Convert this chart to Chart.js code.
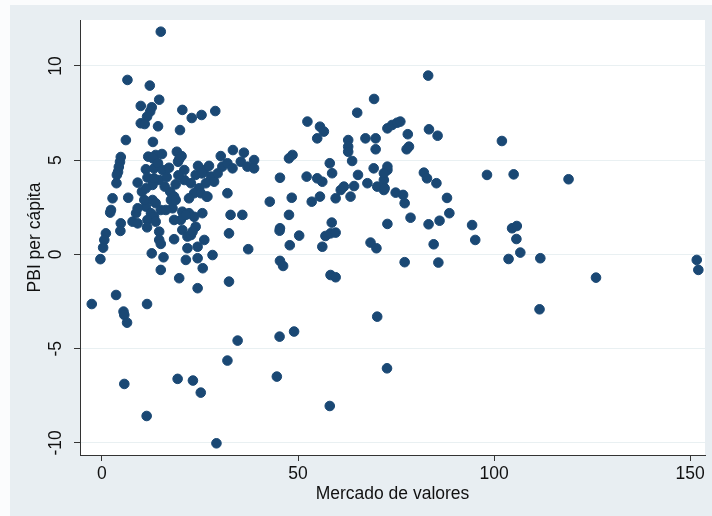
<!DOCTYPE html>
<html>
<head>
<meta charset="utf-8">
<script src="https://cdn.jsdelivr.net/npm/chart.js@4.4.0/dist/chart.umd.min.js"></script>
<style>
html, body { margin: 0; padding: 0; background: #ffffff; }
#wrap { width: 712px; height: 516px; }
</style>
</head>
<body>
<div id="wrap"><canvas id="myChart" width="712" height="516"></canvas></div>
<script>
// Mercado de valores (x) vs PBI per cápita (y)
var mercado = [
    15.0, 6.5, 12.2, 14.6, 9.9, 12.7, 12.3, 11.5, 9.9, 10.9, 14.3, 20.5, 22.9, 25.4, 28.9, 19.9, 6.1, 13.0,
    4.8, 4.6, 4.3, 4.1, 3.8,
    11.8, 13.7, 15.3, 13.0, 19.1, 20.3, 30.3, 33.4,
    11.2, 13.3, 14.3, 15.5, 17.1, 19.4, 21.0, 26.1, 27.3, 30.7, 32.0, 33.3,
    3.7, 2.7, 2.3, 2.1, 4.8, 4.7, 1.0, 0.6, 0.3, -0.4, 6.7, 9.1, 10.2, 11.6, 14.6, 12.9,
    21.0, 22.7, 23.9, 27.8, 28.6, 26.5, 24.8, 23.5, 22.2, 25.2, 26.9,
    32.0, 32.8, 32.4, 32.4,
    17.4, 17.6, 18.4,
    12.9, 13.7, 15.0, 11.2, 12.5, 13.3, 8.7, 7.8, 11.6, 9.1,
    11.5, 14.6, 14.6, 15.0, 12.7, 15.7, 15.0, 19.7,
    18.4, 20.5, 21.8, 22.7, 23.9, 24.4, 26.1, 21.8, 21.4, 24.4, 25.7, 28.2,
    24.4, 3.6,
    18.0, 20.5, 22.2, 23.5, 20.1, 18.4, 25.6, 26.7, 18.8,
    16.0, 19.5, 24.5, 25.5, 16.5, 29.5,
    19.7, 13.3, 11.2, 10.8, 18.8, 9.1, 16.3, 13.7, 21.4, 23.1,
    -2.6, 5.5, 5.7, 6.4, 11.5, 34.6, 32.0, 5.7, 19.3, 23.2, 25.2, 11.4, 29.2,
    69.4, 65.1, 52.4, 55.6, 56.6, 54.9, 72.8, 62.8, 62.8, 62.8, 63.8, 67.2, 69.8, 69.8,
    36.2, 38.8, 35.4, 37.1, 38.8,
    48.6, 47.7, 45.4, 52.2, 54.9, 56.2, 58.1, 58.7, 65.3, 64.3, 67.7, 70.2, 71.9, 72.8, 71.9, 69.3,
    60.9, 59.6, 63.4, 61.7, 53.5, 55.6, 48.4, 42.8, 35.8, 47.7, 45.4, 58.6, 72.8,
    37.3, 45.3, 50.3, 47.9, 56.2, 57.0, 58.3, 59.6, 68.5, 70.0, 45.4, 46.2, 58.3, 59.6,
    70.2, 45.3, 49.0, 44.6, 72.7, 58.1,
    83.2, 74.0, 75.3, 76.1, 78.0, 78.3, 77.7, 83.4, 85.6, 102.0, 72.8, 71.9, 72.1, 74.9, 76.8, 77.2,
    82.1, 82.9, 85.3, 88.0, 98.2, 105.0,
    78.7, 83.3, 86.1, 88.6, 94.4, 95.2, 84.6, 77.2, 85.8, 104.6, 105.8, 105.7, 106.7, 103.7, 111.8, 111.6,
    119.0, 126.0, 151.7, 152.1
];
var pbi = [
    11.82, 9.26, 8.96, 8.21, 7.88, 7.81, 7.58, 7.31, 6.96, 6.92, 6.80, 7.67, 7.24, 7.40, 7.61, 6.60, 6.07, 5.97,
    5.17, 4.91, 4.64, 4.38, 4.22,
    5.19, 5.28, 5.33, 5.10, 5.45, 5.22, 5.22, 5.54,
    4.52, 4.57, 4.84, 4.48, 4.60, 4.92, 4.48, 4.48, 4.70, 4.66, 4.84, 4.57,
    3.78, 2.98, 2.36, 2.22, 1.65, 1.25, 1.12, 0.77, 0.36, -0.25, 3.01, 3.81, 3.33, 4.08, 3.95, 3.69,
    3.95, 3.78, 4.22, 4.13, 3.86, 3.78, 3.51, 3.25, 2.98, 3.25, 3.07,
    3.25, 2.10, 1.12, -1.44,
    3.33, 2.89, 3.07,
    2.89, 2.72, 2.36, 2.54, 2.19, 2.00, 2.19, 1.74, 1.83, 1.65,
    1.44, 1.21, 0.77, 0.56, 0.06, -0.15, -0.82, -1.26,
    0.81, 1.30, 0.95, 1.03, 1.47, 0.41, 0.77, 0.33, -0.29, -0.20, -0.73, -0.03,
    -1.79, -2.15,
    2.45, 2.27, 2.19, 2.00, 1.83, 1.83, 2.19, 3.07, 3.72,
    3.60, 4.20, 4.70, 4.30, 4.10, 4.30,
    5.05, 4.04, 3.51, 2.89, 2.89, 2.45, 2.36, 1.74, 2.10, 1.21,
    -2.63, -3.03, -3.21, -3.62, -2.63, -4.57, -5.63, -6.87, -6.60, -6.69, -7.33, -8.57, -10.02,
    8.25, 7.52, 7.05, 6.78, 6.52, 6.16, 6.69, 6.07, 5.72, 5.45, 4.96, 6.16, 6.16, 5.58,
    5.40, 5.01, 4.92, 4.66, 4.57,
    5.28, 5.10, 4.07, 4.13, 4.04, 3.86, 4.84, 4.31, 4.22, 3.63, 3.78, 3.60, 3.95, 4.48, 3.42, 4.57,
    3.42, 2.98, 3.07, 3.60, 2.80, 3.07, 3.01, 2.80, 2.10, 2.10, 1.39, 1.69, 1.62,
    0.28, 1.26, 1.00, 0.49, 0.41, 0.98, 1.12, 1.16, 0.63, 0.33, -0.34, -0.61, -1.09, -1.21,
    -3.30, -4.36, -4.09, -6.48, -6.04, -8.04,
    9.49, 6.87, 6.99, 7.05, 6.38, 5.72, 5.58, 6.64, 6.30, 6.02, 4.66, 4.31, 3.51, 3.28, 3.16, 2.72,
    4.34, 4.04, 3.78, 3.00, 4.22, 4.25,
    1.95, 1.60, 1.79, 2.19, 1.56, 0.77, 0.54, -0.41, -0.43, 1.39, 1.51, 0.82, 0.10, -0.24, -0.20, -2.91,
    3.99, -1.23, -0.29, -0.82
];
var xTicks = [0, 50, 100, 150];
var yTicks = [-10, -5, 0, 5, 10];

var puntos = [];
for (var i = 0; i < mercado.length; i++) {
    puntos.push({ x: mercado[i], y: pbi[i] });
}

// stata-like backgrounds: light blue graph region, white plot region
var fondo = {
    id: 'fondo',
    beforeDraw: function (chart) {
        var ctx = chart.ctx, a = chart.chartArea;
        ctx.save();
        ctx.fillStyle = '#fbfcfd';
        ctx.fillRect(0, 0, chart.width, chart.height);
        ctx.fillStyle = '#e8eef2';
        ctx.fillRect(10, 5, chart.width - 10, chart.height - 5);
        ctx.fillStyle = '#ffffff';
        ctx.fillRect(a.left, a.top, a.right - a.left, a.bottom - a.top);
        ctx.restore();
    }
};

var fuente = "'Liberation Sans', Arial, sans-serif";

new Chart("myChart", {
    type: "scatter",
    data: {
        datasets: [{
            data: puntos,
            backgroundColor: "#1a4874",
            borderColor: "#1a4874",
            borderWidth: 1,
            pointRadius: 4.8,
            pointHoverRadius: 4.8
        }]
    },
    plugins: [fondo],
    options: {
        responsive: false,
        animation: false,
        devicePixelRatio: 1,
        layout: { padding: { top: 20, right: 7, left: 0, bottom: 0 } },
        plugins: {
            legend: { display: false },
            tooltip: { enabled: false }
        },
        scales: {
            x: {
                type: 'linear',
                min: -5.6,
                max: 153.8,
                afterBuildTicks: function (s) {
                    s.ticks = xTicks.map(function (v) { return { value: v }; });
                },
                afterFit: function (s) { s.height = 61; },
                ticks: {
                    color: '#111',
                    font: { family: fuente, size: 17.5 },
                    padding: 3,
                    maxRotation: 0,
                    minRotation: 0
                },
                grid: {
                    drawOnChartArea: false,
                    tickLength: 6,
                    tickColor: '#333'
                },
                border: { color: '#333', width: 1 },
                title: {
                    display: true,
                    text: 'Mercado de valores',
                    color: '#111',
                    font: { family: fuente, size: 17.5 },
                    padding: { top: 0, bottom: 11 }
                }
            },
            y: {
                type: 'linear',
                min: -10.64,
                max: 12.44,
                afterBuildTicks: function (s) {
                    s.ticks = yTicks.map(function (v) { return { value: v }; });
                },
                afterFit: function (s) { s.width = 80; },
                ticks: {
                    color: '#111',
                    font: { family: fuente, size: 17.5 },
                    padding: 5,
                    minRotation: 90,
                    maxRotation: 90,
                    crossAlign: 'center'
                },
                grid: {
                    color: '#e9f0f2',
                    lineWidth: 1,
                    tickLength: 6,
                    tickColor: '#333'
                },
                border: { color: '#333', width: 1 },
                title: {
                    display: true,
                    text: 'PBI per cápita',
                    color: '#111',
                    font: { family: fuente, size: 17.5 },
                    padding: { top: 25, bottom: 0 }
                }
            }
        }
    }
});
</script>
</body>
</html>
